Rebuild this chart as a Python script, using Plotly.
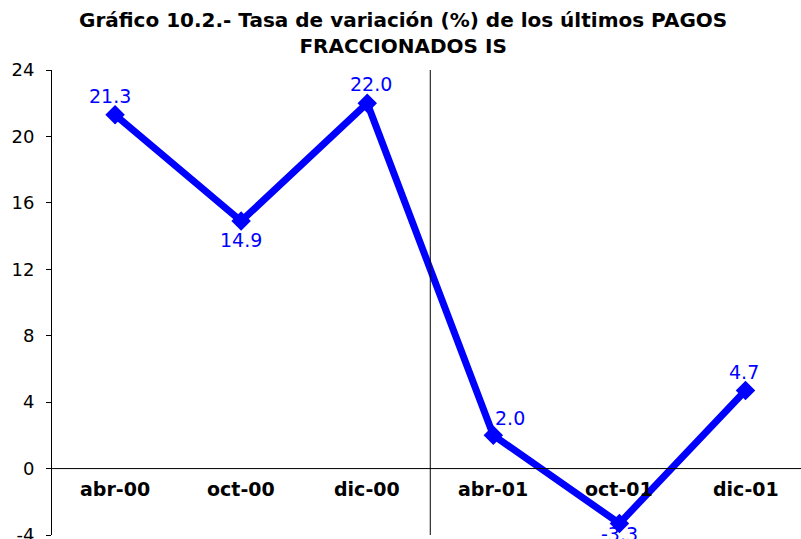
import plotly.graph_objects as go

categories = ["abr-00", "oct-00", "dic-00", "abr-01", "oct-01", "dic-01"]
values = [21.3, 14.9, 22.0, 2.0, -3.3, 4.7]
label_side = ["above", "below", "above", "above-right", "below", "above"]
label_dx = [-5, 0, 4, 0, 0, -2]
label_dy = [19, -19, 19, 17, -11, 19]
y_ticks = [-4, 0, 4, 8, 12, 16, 20, 24]
y_tick_text = ["-4", "0", "4", "8", "12", "16", "20", "24"]

xpos = [i + 0.5 for i in range(len(categories))]

fig = go.Figure()
fig.add_trace(go.Scatter(
    x=xpos, y=values,
    mode="lines+markers",
    line=dict(color="#0000FF", width=7),
    marker=dict(symbol="diamond", size=15, color="#0000FF"),
    cliponaxis=False,
    showlegend=False,
    hoverinfo="skip",
))

for xp, v, side, dx, dy in zip(xpos, values, label_side, label_dx, label_dy):
    anchor = "left" if side == "above-right" else "center"
    fig.add_annotation(x=xp, y=v, text=f"{v:.1f}", showarrow=False,
                       xanchor=anchor, xshift=dx, yshift=dy,
                       font=dict(family="DejaVu Sans", size=19, color="#0000FF"))

for xp, c in zip(xpos, categories):
    fig.add_annotation(x=xp, y=-1.25, text=f"<b>{c}</b>", showarrow=False,
                       font=dict(family="DejaVu Sans", size=19, color="black"))

# title
fig.add_annotation(xref="paper", yref="paper", x=(403 - 52) / 749, y=(535 - 33) / 465,
                   xanchor="center", yanchor="middle", showarrow=False,
                   text="<b>Gráfico 10.2.- Tasa de variación (%) de los últimos PAGOS<br>FRACCIONADOS IS</b>",
                   font=dict(family="DejaVu Sans", size=20, color="black"))

fig.add_shape(type="line", xref="paper", x0=0, x1=1, yref="y", y0=0, y1=0,
              line=dict(color="black", width=1))
fig.add_shape(type="line", xref="x", x0=3, x1=3, yref="paper", y0=0, y1=1,
              line=dict(color="black", width=1))

fig.update_layout(
    width=801, height=539,
    margin=dict(l=52, r=0, t=70, b=4, autoexpand=False),
    paper_bgcolor="white", plot_bgcolor="white",
    xaxis=dict(range=[0, 5.94], visible=False, showgrid=False, zeroline=False, automargin=False),
    yaxis=dict(range=[-4, 24], tickvals=y_ticks, ticktext=y_tick_text,
               showgrid=False, zeroline=False,
               showline=True, linecolor="black", linewidth=1, automargin=False,
               ticks="outside", ticklen=5, tickcolor="black",
               ticklabeloverflow="allow", ticklabelstandoff=8,
               tickfont=dict(family="DejaVu Sans", size=18, color="black")),
)

fig.write_html("out.html", config={"displayModeBar": False},
               post_script="document.body.style.margin='0';document.body.style.overflow='hidden';")
